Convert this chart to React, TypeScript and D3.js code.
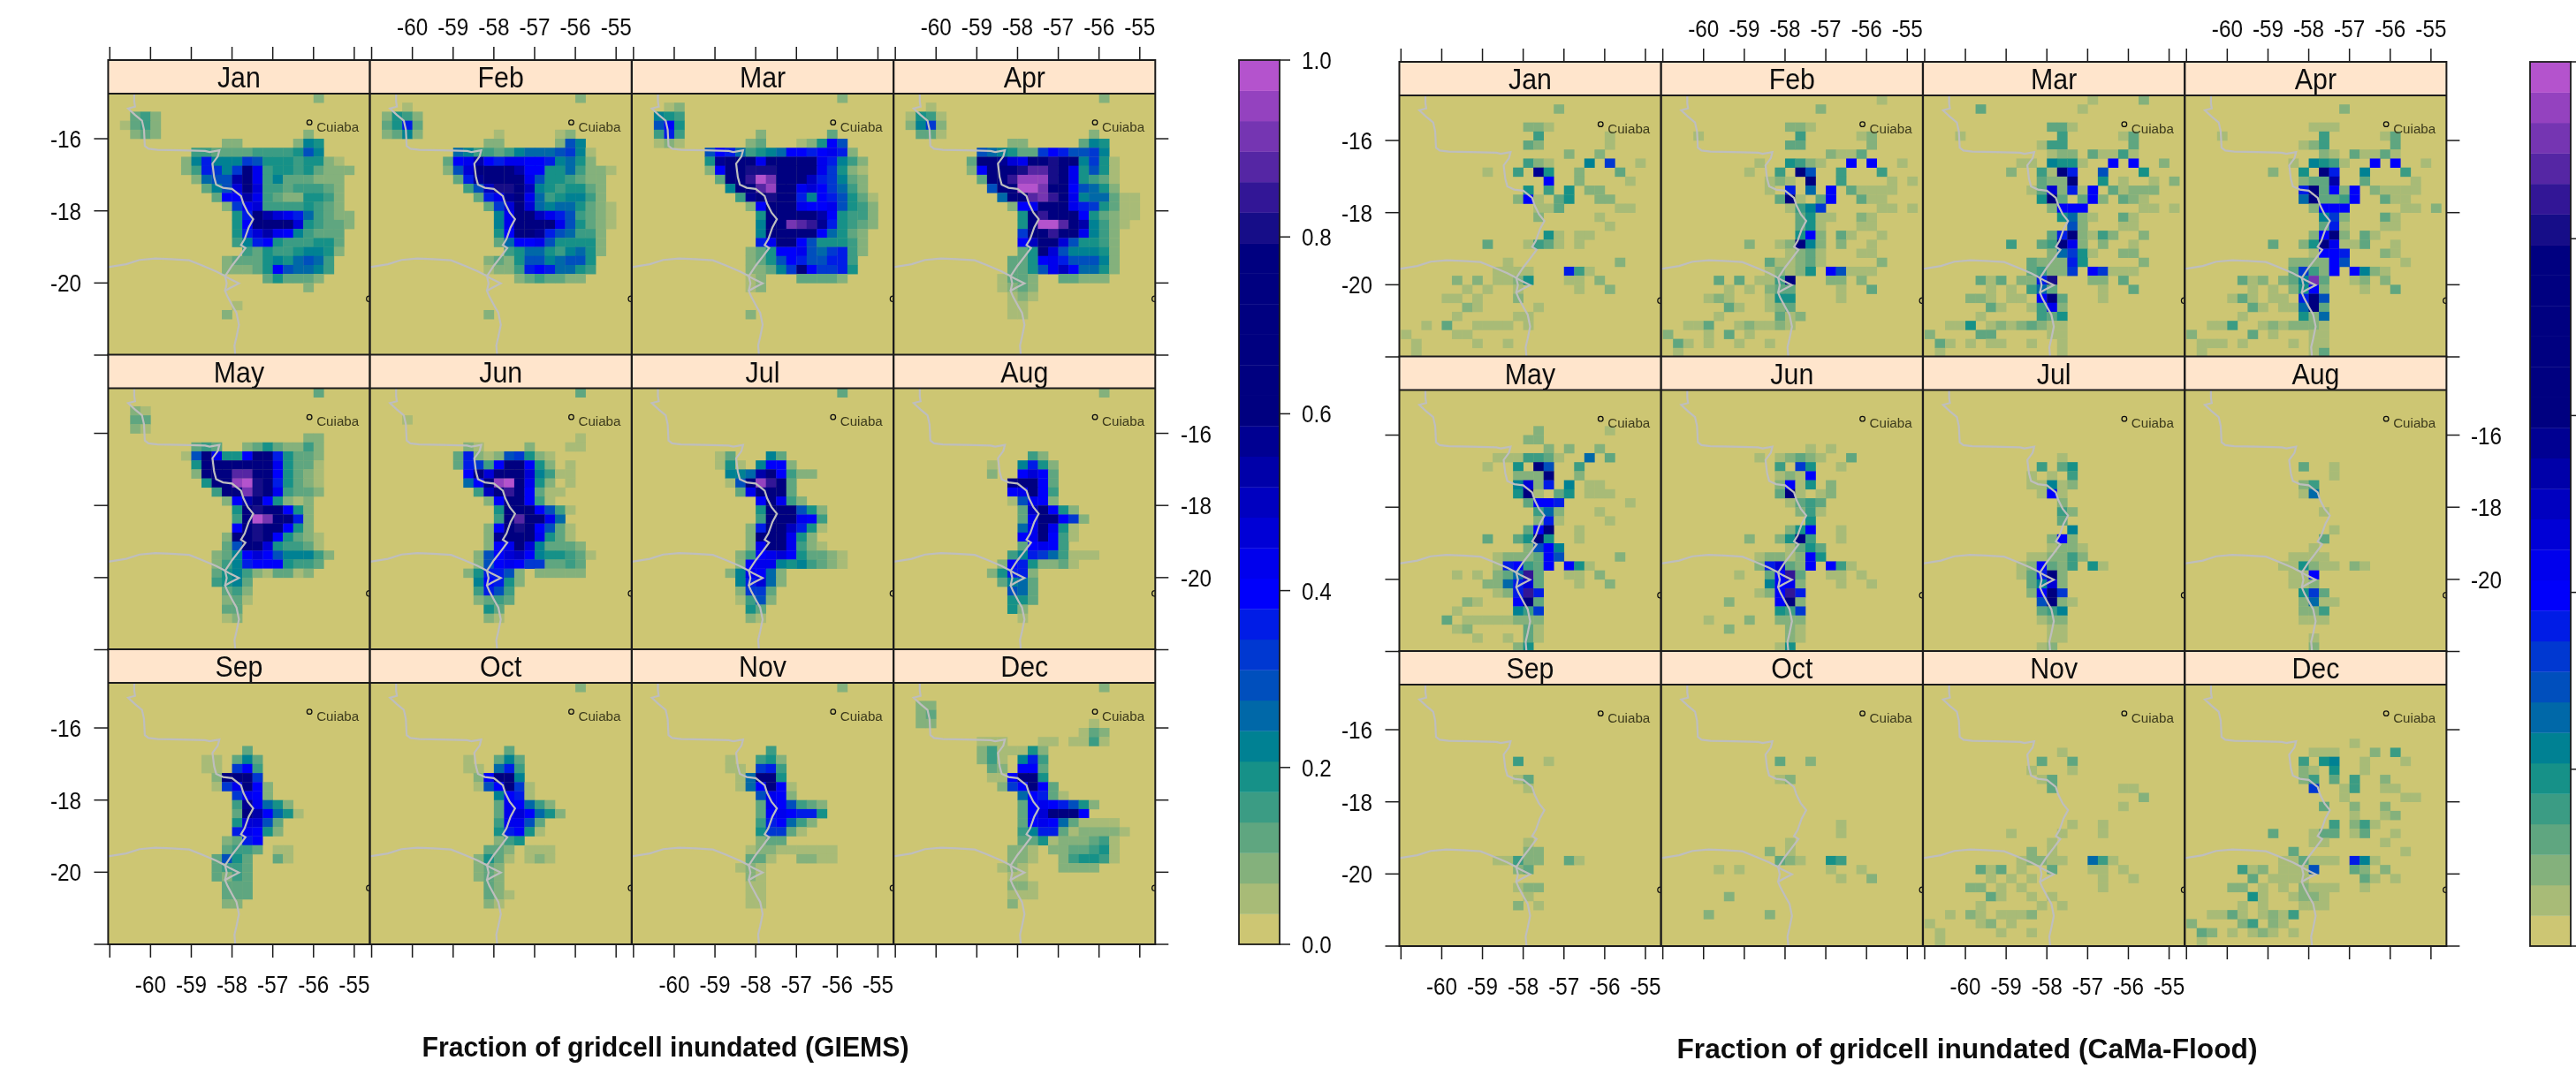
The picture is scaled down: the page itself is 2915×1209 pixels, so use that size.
import React from "react";
import * as d3 from "d3";

type Rows = [number, string][];

const months = ["Jan", "Feb", "Mar", "Apr", "May", "Jun", "Jul", "Aug", "Sep", "Oct", "Nov", "Dec"];
const lonTicks = [-61, -60, -59, -58, -57, -56, -55];
const lonLabels = [-60, -59, -58, -57, -56, -55];
const latTicks = [-16, -18, -20];
const keyTicks = ["0.0", "0.2", "0.4", "0.6", "0.8", "1.0"];
const paletteStops = ["#CDC673", "#008B8B", "#0000FF", "#000080", "#000080", "#B452CD"];

// band index per grid cell: [row from the north, "firstColumn:bands ..."], bands in base 36
const giemsJan: Rows = [[0,"20:2"],[2,"2:342"],[3,"1:1342"],[4,"2:232 19:2"],[5,"11:22 18:265"],[6,"8:4433334444586"],[7,"7:26a6669855545521"],[8,"7:24a969hc455453222"],[9,"8:2788fhc46333222"],[10,"9:368dhd44344432"],[11,"10:3bbfc43225542"],[12,"11:29cd44445432"],[13,"12:5ahfdca74322"],[14,"12:5bhhhhd54332"],[15,"12:5adfcb64333"],[16,"12:46ab5444553"],[17,"13:4354456652"],[18,"11:23335657874"],[19,"11:22235b87764"],[20,"15:353332"],[21,"19:2"],[23,"12:1"],[24,"11:2"]];
const giemsFeb: Rows = [[0,"20:2"],[1,"3:1"],[2,"1:2542"],[3,"1:35a3"],[4,"1:2362 12:1 18:12"],[5,"11:22 18:286"],[6,"8:76443467778961"],[7,"7:3bcfbaccbba6752"],[8,"7:28dhhhhfbb5574221"],[9,"8:3aghhjhc8554322"],[10,"9:48ennhe6545532"],[11,"10:3acghc7456642"],[12,"11:39dhd76775321"],[13,"12:6chheca84321"],[14,"12:6chmkhc85321"],[15,"12:5bhhga87442"],[16,"12:37bbc855552"],[17,"13:4577546752"],[18,"11:23258867885"],[19,"11:1224aba7754"],[20,"14:2343322"],[24,"11:2"]];
const giemsMar: Rows = [[0,"20:2"],[1,"3:12"],[2,"2:654"],[3,"2:8b5"],[4,"2:4a4 12:2 19:3"],[5,"2:121 11:23 16:125b8"],[6,"7:8ba74567bbabca2"],[7,"7:5ghhhchhhhhca642"],[8,"7:2bhinnnjhhhc9521"],[9,"8:3hhosqmhhea9632"],[10,"9:6hkprmhcdb9742"],[11,"10:4gjnjha6ba8531"],[12,"11:2bhhhcbbc8542"],[13,"12:5hhhhhfb5442"],[14,"12:6hmqpoga5432"],[15,"12:6hhhhhb7532"],[16,"12:achhb855542"],[17,"11:235bbc879a42"],[18,"11:2358ba88aa4"],[19,"11:22369hb99a5"],[20,"11:12 16:33332"],[21,"11:12"],[24,"11:2"]];
const giemsApr: Rows = [[0,"20:2"],[1,"3:1"],[2,"1:1541"],[3,"1:2692"],[4,"2:331 19:2"],[5,"11:22 18:365"],[6,"8:8765339ba8896"],[7,"7:3hhgdchmnhh6951"],[8,"7:2bhmmnppnhc5851"],[9,"8:3hhorrrnhc5431"],[10,"9:8hkssqmhb8752"],[11,"10:7hjpqohc677311"],[12,"11:2bchhhca95311"],[13,"12:5hokhhb53211"],[14,"12:5hssphf6421"],[15,"12:9hmohhc642"],[16,"12:behhd85542"],[17,"12:35hd866652"],[18,"11:335bca88862"],[19,"11:3358ceb7752"],[20,"10:1332 16:33222"],[21,"10:1232"],[22,"11:121"],[23,"11:11"],[24,"11:11"]];
const giemsMay: Rows = [[0,"20:3"],[2,"2:21"],[3,"2:33"],[4,"2:21"],[5,"19:22"],[6,"8:343 13:23532242"],[7,"7:18hc55bhha5332"],[8,"8:5hhhhjkhc5331"],[9,"8:2hhkppmhb5321"],[10,"9:5hjrsnha5321"],[11,"10:4hmqnhc4332"],[12,"11:2bfhb5212"],[13,"12:5hnhhb52"],[14,"12:4hsqhha2"],[15,"12:bhnhhb52"],[16,"11:2hjnhb5321"],[17,"11:38hhd54431"],[18,"10:236bdb866642"],[19,"10:246abbb5443"],[20,"10:3564213312"],[21,"10:4563"],[22,"11:342"],[23,"11:231"],[24,"11:33"],[25,"11:12"]];
const giemsJun: Rows = [[0,"20:3"],[3,"3:1"],[5,"20:1"],[6,"9:21 15:2 19:11"],[7,"8:3a21289521"],[8,"8:3a94bhhb52 19:1"],[9,"9:bhdhkhd6411"],[10,"9:7bjrsjc52 19:1"],[11,"10:4ejohb311"],[12,"11:2bhhb41"],[13,"12:5hlhb841"],[14,"12:4hphhc7"],[15,"11:2bhnjb831"],[16,"11:2gklhc531"],[17,"11:2bchd63332"],[18,"10:28bdeb655431"],[19,"10:28bcb993343"],[20,"9:25aa82.22222"],[21,"10:6ba52"],[22,"10:4a84"],[23,"10:2343"],[24,"11:53"],[25,"11:21"]];
const giemsJul: Rows = [[0,"20:3"],[7,"8:13 13:63"],[8,"8:151.6bb2"],[9,"9:667fhb422"],[10,"9:18hroh3"],[11,"10:3chlh3"],[12,"12:bhc42"],[13,"12:5hhh852"],[14,"12:4hhhcb4"],[15,"11:2ahhea51"],[16,"11:2hihc52"],[17,"11:2chhc421"],[18,"10:24bcdb53321"],[19,"10:2bcc6564321"],[20,"9:26cb72"],[21,"10:6ad72"],[22,"10:2993"],[23,"10:1482"],[24,"11:53"],[25,"11:21"]];
const giemsAug: Rows = [[0,"20:2"],[7,"13:42"],[8,"9:1 12:6a52"],[9,"9:2 12:bdb3"],[10,"11:hjhb3"],[11,"11:bchb4"],[12,"11:18cb2"],[13,"12:3ehb52"],[14,"12:3chhb92"],[15,"12:7chc51"],[16,"12:bchb41"],[17,"12:3bcb4"],[18,"11:46a974111"],[19,"10:2ba52231"],[20,"9:25aa2"],[21,"10:3673"],[22,"11:873"],[23,"11:553"],[24,"11:52"],[25,"12:1"]];
const giemsSep: Rows = [[7,"13:3"],[8,"9:11 12:363"],[9,"9:11 12:9b4"],[10,"10:2hhh9"],[11,"10:19chb2"],[12,"12:9cb2"],[13,"12:4gc752"],[14,"12:3hfb751"],[15,"12:5dd83"],[16,"12:acb52"],[17,"11:23ab"],[18,"11:3443.11"],[19,"10:3853..31"],[20,"10:3443"],[21,"10:3243"],[22,"11:333"],[23,"11:333"],[24,"11:22"]];
const giemsOct: Rows = [[0,"20:2"],[7,"13:3"],[8,"9:1 12:363"],[9,"9:11 12:7a4"],[10,"10:2bhh6"],[11,"10:18bh91"],[12,"12:6ba1"],[13,"12:3cb742"],[14,"12:3cdb752"],[15,"12:4cc83"],[16,"12:5ab51"],[17,"12:245"],[18,"11:332.111"],[19,"10:2531.121"],[20,"10:232"],[21,"10:232"],[22,"11:32"],[23,"11:321"],[24,"11:21"]];
const giemsNov: Rows = [[0,"20:2"],[7,"13:4"],[8,"9:1 12:452"],[9,"9:11 12:9a4"],[10,"10:17hh5"],[11,"10:17bhb1"],[12,"12:8cb2"],[13,"12:3cb8432"],[14,"12:3bcbaa5"],[15,"12:4ab742"],[16,"12:59931"],[17,"12:233"],[18,"11:122111111"],[19,"11:331..2211"],[20,"10:121"],[21,"11:21"],[22,"11:11"],[23,"11:11"],[24,"11:11"]];
const giemsDec: Rows = [[0,"20:2"],[2,"2:22"],[3,"2:23"],[4,"2:22 19:1"],[5,"18:132"],[6,"8:111 14:11 17:1141"],[7,"8:2411152"],[8,"8:241.6a4"],[9,"9:32.bb3"],[10,"9:11bhh5"],[11,"10:29bhb3"],[12,"12:7ba31"],[13,"12:3bcba852"],[14,"12:3bdhhhb"],[15,"12:3bcb731111"],[16,"12:46aa3122221"],[17,"12:3351222341"],[18,"11:221.2233451"],[19,"11:221..245541"],[20,"10:121...2222"],[21,"11:11"],[22,"11:221"],[23,"11:111"],[24,"11:2"]];

const camaJan: Rows = [[1,"15:2"],[3,"12:221"],[4,"13:4 20:1"],[5,"12:32 20:1"],[6,"16:2 19:2"],[7,"12:421 18:6 20:9 23:1"],[8,"8:1 11:4 13:g5 17:2 21:3"],[9,"14:b 17:2 22:1"],[10,"12:5.4.5 18:22"],[11,"11:2b1.35 19:22"],[12,"13:113 21:11"],[13,"13:2 19:1"],[14,"20:1"],[15,"14:51 17:11"],[16,"8:3 12:1431 17:1"],[18,"10:1 21:2"],[19,"9:1111 16:a41"],[20,"5:2.2.1125 16:11.2"],[21,"6:1.1..1 17:1 20:2"],[22,"4:11.1...2"],[23,"6:21.....1"],[24,"5:1.....11"],[25,"2:1.3..1111.1"],[26,"0:1....11"],[27,"1:1.....1..1"],[28,"1:1"]];
const camaFeb: Rows = [[0,"21:1"],[1,"15:2"],[3,"12:221"],[4,"3:1 13:4 19:12"],[5,"12:33 20:2"],[6,"16:2113"],[7,"9:1..5421..b.b..1"],[8,"8:1..4.h8..4...4"],[9,"10:121.h..4....1.1"],[10,"10:1.a.7.b.31111"],[11,"11:3h1.3b..311"],[12,"12:1469 21:11.1"],[13,"13:3511..21"],[14,"13:351 19:11"],[15,"13:5b2.31..1"],[16,"8:2..12h62.2..1"],[17,"12:1231 19:11"],[18,"10:311231 21:2"],[19,"10:12125.b8111"],[20,"5:3.3.114h 16:22.2"],[21,"6:1.1.233 17:1 20:3"],[22,"4:121...155 17:1"],[23,"6:31..123"],[24,"5:1.....312"],[25,"2:113..121121"],[26,"0:2...1.3.1"],[27,"1:31.1..1..1"],[28,"1:1"]];
const camaMar: Rows = [[0,"16:1....2"],[1,"5:3 15:1"],[3,"12:331"],[4,"3:1 13:4 19:13"],[5,"11:144 20:3"],[6,"12:122.31141"],[7,"9:11.6551..b.b..2"],[8,"8:2..41ha..8...5"],[9,"11:322h..5.1..1.2"],[10,"10:13d2a1b.31222"],[11,"11:5h3.3b2.321"],[12,"12:2bbb 21:11.1"],[13,"13:5721..31"],[14,"14:82 19:11"],[15,"12:3ah2142..2"],[16,"8:4..34hc2.2..1"],[17,"12:27951..22"],[18,"10:3222a5 21:2"],[19,"10:34229.b9111"],[20,"5:313.22an 16:22.3"],[21,"6:1.1.473 17:1 20:3"],[22,"4:221.11.bh3 17:1"],[23,"6:31..14c2"],[24,"5:1.....435"],[25,"2:115.12123211"],[26,"0:2....33 12:11"],[27,"1:31.1.11..1..1"],[28,"1:1 13:1"]];
const camaApr: Rows = [[1,"15:2"],[3,"12:111"],[4,"3:1 13:4 19:13"],[5,"11:124 20:3"],[6,"13:21.31131"],[7,"10:1.6541..b.b..1"],[8,"8:2..5.ha..6...4"],[9,"11:233f..3....1"],[10,"11:ah3b2b.21111"],[11,"11:7h334b..311"],[12,"12:2bbb 21:11.2"],[13,"13:692...31"],[14,"13:3a1 19:11"],[15,"12:2bh2.31"],[16,"8:3..25hc113..1"],[17,"12:1bba...21"],[18,"10:2222b8 21:1"],[19,"10:3942b.b621"],[20,"5:312.236q3 16:12.2"],[21,"6:1.1.25b2 17:1 20:3"],[22,"4:131.11.am8"],[23,"6:31.117h3"],[24,"5:1.....527"],[25,"2:114..1212221"],[26,"0:2.....3.1 12:11"],[27,"1:111.1....1.11"],[28,"1:1 12:13"]];
const camaMay: Rows = [[4,"13:2 20:1"],[5,"12:22"],[6,"14:2.2..2"],[7,"9:1114431..7.3"],[8,"8:1..5.h8..4"],[9,"11:222h..2"],[10,"11:6d2a.6.11"],[11,"11:5h1.35.111"],[12,"12:3bba 22:1"],[13,"13:472...1"],[14,"13:2a1 20:1"],[15,"12:3bh..1"],[16,"8:3..35h5..1"],[17,"12:28b6"],[18,"9:12223b8 21:2"],[19,"9:1ab43b.b51"],[20,"5:1.1.237o3 16:11.2"],[21,"8:227ad3 17:1 20:2"],[22,"9:12aoa"],[23,"6:21...bh3"],[24,"5:1.....649"],[25,"4:3.11111222"],[26,"5:12 12:31"],[27,"7:1..1.31"],[28,"11:25"]];
const camaJun: Rows = [[6,"14:1.1"],[7,"9:1.12321..3"],[8,"11:4.95..1"],[9,"11:121b"],[10,"11:2b15.2"],[11,"11:3h1.12"],[12,"12:1343"],[13,"13:241"],[14,"14:5"],[15,"12:25b..1"],[16,"8:2..25h4..1"],[17,"12:1353"],[18,"9:12212b5"],[19,"9:2ad32b.b41"],[20,"7:1..3bo3 16:11.1"],[21,"10:6bc2 17:1 20:1"],[22,"9:12boa"],[23,"6:2....bh2"],[24,"11:549"],[25,"4:1...2..222"],[26,"6:2 12:21"],[27,"12:21"],[28,"11:15"]];
const camaJul: Rows = [[7,"13:1"],[8,"11:4.35"],[9,"10:1.1.4"],[10,"10:11612"],[11,"11:1b1"],[12,"13:2"],[13,"13:42"],[14,"13:3"],[15,"14:6"],[16,"12:2b2"],[17,"12:1221"],[18,"10:112242"],[19,"9:12b324.51"],[20,"9:13ah2"],[21,"10:36d2"],[22,"10:2bh9"],[23,"11:8h21"],[24,"11:346"],[25,"11:122"],[26,"12:11"],[27,"12:11"],[28,"11:12"]];
const camaAug: Rows = [[8,"11:3..1"],[9,"14:1"],[10,"11:24"],[11,"11:17"],[13,"13:1"],[15,"14:1"],[16,"13:3"],[17,"12:1"],[18,"10:1111"],[19,"9:115211.21"],[20,"10:11b"],[21,"10:112"],[22,"11:593"],[23,"11:2711"],[24,"11:224"],[25,"11:111"],[27,"12:1"],[28,"12:2"]];
const camaSep: Rows = [[8,"11:4..1"],[10,"11:13"],[11,"12:1"],[17,"12:1"],[18,"12:22"],[19,"9:11422..31"],[20,"11:23"],[22,"11:122"],[23,"12:1"],[24,"11:2.1"]];
const camaOct: Rows = [[8,"11:3..2"],[10,"11:12"],[15,"17:1"],[16,"17:1"],[17,"12:1"],[18,"10:2.1"],[19,"11:321..54"],[20,"5:1.1 16:1..1"],[21,"17:1..2"],[23,"6:2"],[25,"4:2.....2"]];
const camaNov: Rows = [[7,"13:1"],[8,"11:3..3"],[9,"10:1...1"],[10,"11:13"],[11,"12:3 19:11"],[12,"21:2"],[13,"19:1"],[15,"14:1..1"],[16,"8:1....1...1"],[17,"12:1"],[18,"10:2.1"],[19,"9:12211..741"],[20,"5:313.1..3 16:11.1"],[21,"6:1.1.1 17:1..1"],[22,"4:22.1.1 17:1"],[23,"6:31..1.1"],[24,"5:1.....1.1"],[25,"2:1.21.1112"],[26,"0:1....12.1"],[27,"1:1.....1..1"],[28,"1:1"]];
const camaDec: Rows = [[6,"16:1"],[7,"12:111...2.4"],[8,"11:4.56..1...1"],[9,"11:21.5..1"],[10,"11:24.3.4..2"],[11,"12:9..14..11"],[12,"15:1 21:11"],[13,"13:3..2..2"],[14,"16:1..12"],[15,"14:4.241"],[16,"8:3...133.13..1"],[17,"12:11 19:1"],[18,"10:3 21:1"],[19,"9:113111.a61"],[20,"5:412.1118 16:32.2"],[21,"6:3.1111 17:31.1"],[22,"4:22.1.1.2111 17:1"],[23,"6:51..1221"],[24,"5:1.1...111"],[25,"2:1131.1214"],[26,"0:2....24.21"],[27,"1:32.1.121.1"],[28,"1:1"]];

const giemsPanels = [giemsJan, giemsFeb, giemsMar, giemsApr, giemsMay, giemsJun, giemsJul, giemsAug, giemsSep, giemsOct, giemsNov, giemsDec];
const camaPanels = [camaJan, camaFeb, camaMar, camaApr, camaMay, camaJun, camaJul, camaAug, camaSep, camaOct, camaNov, camaDec];

// river and border, lon/lat
const riverLon = [-60.40, -60.40, -60.38, -60.55, -60.38, -60.21, -60.16, -60.14, -60.05, -59.83, -59.27, -58.66, -58.55, -58.31, -58.35, -58.48, -58.44, -58.39, -58.22, -58.00, -57.78, -57.72, -57.61, -57.48, -57.59, -57.69, -57.78, -57.67, -57.83, -58.00, -58.17, -58.05, -57.83, -58.05, -58.17, -58.11, -57.97, -57.89, -57.83, -57.89, -57.94, -57.92];
const riverLat = [-14.75, -14.97, -15.11, -15.16, -15.34, -15.50, -15.75, -16.20, -16.28, -16.31, -16.32, -16.34, -16.37, -16.32, -16.49, -16.69, -17.06, -17.27, -17.36, -17.39, -17.59, -17.80, -18.05, -18.23, -18.46, -18.78, -18.95, -19.03, -19.27, -19.52, -19.81, -19.89, -20.01, -20.14, -20.22, -20.38, -20.67, -20.83, -21.16, -21.49, -21.73, -22.00];
const borderLon = [-61.04, -60.60, -60.27, -59.88, -59.49, -59.05, -58.72, -58.39, -58.17];
const borderLat = [-19.56, -19.48, -19.36, -19.32, -19.34, -19.37, -19.52, -19.68, -19.81];
const channelLon = [-58.17, -58.13, -58.17];
const channelLat = [-19.81, -20.01, -20.22];
const cuiaba = [-56.1, -15.55];
const campoGrande = [-54.63, -20.44];

const ramp = d3.scaleLinear<string>().domain([0, 0.2, 0.4, 0.6, 0.8, 1]).range(paletteStops);
const palette = d3.range(29).map((i) => ramp(i / 28));
const colorScale = d3.scaleQuantize<string>().domain([0, 1]).range(palette);

const panelW = 296;
const panelH = 296;
const stripH = 38;
const INK = "#1c1c1c";
const FONT = "'Liberation Sans', Arial, sans-serif";

const cellsOf = (rows: Rows) =>
  rows.flatMap(([row, runs]) =>
    runs.split(" ").flatMap((run) => {
      const [col, bands] = run.split(":");
      return [...bands].flatMap((ch, i) =>
        ch === "." ? [] : [{ lon: -61 + (+col + i) * 0.25, lat: -14.75 - row * 0.25, value: (parseInt(ch, 36) + 0.5) / 29 }]
      );
    })
  );

const Squeezed = ({ x, y, size, anchor = "middle", sx = 0.9, children }: any) => (
  <text transform={`translate(${x},${y}) scale(${sx},1)`} fontSize={size} textAnchor={anchor} fontFamily={FONT} fill="#111">
    {children}
  </text>
);

const Panel = ({ id, left, top, index, rows }: any) => {
  const x = d3.scaleLinear().domain([-61.04, -54.62]).range([left, left + panelW]);
  const y = d3.scaleLinear().domain([-14.75, -22]).range([top, top + panelH]);
  const path = (lons: number[], lats: number[]) =>
    d3.line<number>().x((d) => x(d)).y((_, i) => y(lats[i]))(lons) as string;
  return (
    <g>
      <clipPath id={id}>
        <rect x={left} y={top} width={panelW} height={panelH} />
      </clipPath>
      <rect x={left} y={top - stripH} width={panelW} height={stripH} fill="#ffe5cc" />
      <Squeezed x={left + panelW / 2} y={top - 7} size={33} sx={0.92}>{months[index]}</Squeezed>
      <g clipPath={`url(#${id})`}>
        <rect x={left} y={top} width={panelW} height={panelH} fill={palette[0]} />
        {cellsOf(rows).map((c, i) => (
          <rect
            key={i}
            x={x(c.lon)}
            y={y(c.lat)}
            width={x(c.lon + 0.25) - x(c.lon) + 0.3}
            height={y(c.lat - 0.25) - y(c.lat) + 0.3}
            fill={colorScale(c.value)}
          />
        ))}
        {[path(riverLon, riverLat), path(borderLon, borderLat), path(channelLon, channelLat)].map((d, i) => (
          <path key={i} d={d} fill="none" stroke="#bebebe" strokeWidth={2.2} />
        ))}
        <circle cx={x(cuiaba[0])} cy={y(cuiaba[1])} r={2.8} fill="none" stroke="#111" strokeWidth={1.3} />
        <circle cx={x(campoGrande[0])} cy={y(campoGrande[1])} r={3.2} fill="none" stroke="#111" strokeWidth={1.3} />
        <text x={x(cuiaba[0]) + 8} y={y(cuiaba[1]) + 10} fontSize={14} fontFamily={FONT} fill="#3c3a1c" textLength={48} lengthAdjust="spacingAndGlyphs">
          Cuiaba
        </text>
      </g>
      <rect x={left} y={top - stripH} width={panelW} height={stripH + panelH} fill="none" stroke={INK} strokeWidth={2} />
      <line x1={left} x2={left + panelW} y1={top} y2={top} stroke={INK} strokeWidth={2} />
    </g>
  );
};

const Block = ({ name, rowsByMonth, x0, y0, title, titleLen, titleX, keyX, keyLabels, leftLabelX, rightLabelX }: any) => {
  const lefts = d3.range(4).map((i) => x0 + i * (panelW + 0.3));
  const tops = d3.range(3).map((i) => y0 + i * 333.5);
  const keyY = d3.scaleLinear().domain([0, 1]).range([tops[2] + panelH, tops[0] - stripH]);
  const keyBands = d3.range(29);
  const xOf = (left: number) => d3.scaleLinear().domain([-61.04, -54.62]).range([left, left + panelW]);
  const yOf = (top: number) => d3.scaleLinear().domain([-14.75, -22]).range([top, top + panelH]);
  const bottom = tops[2] + panelH;
  const upper = tops[0] - stripH;
  return (
    <g>
      {months.map((_, i) => (
        <Panel key={i} id={`${name}${i}`} index={i} rows={rowsByMonth[i]} left={lefts[i % 4]} top={tops[Math.floor(i / 4)]} />
      ))}
      {lefts.map((left, c) => {
        const x = xOf(left);
        return (
          <g key={c}>
            {lonTicks.map((t) => (
              <g key={t}>
                <line x1={x(t)} x2={x(t)} y1={upper} y2={upper - 15} stroke={INK} strokeWidth={1.5} />
                <line x1={x(t)} x2={x(t)} y1={bottom} y2={bottom + 15} stroke={INK} strokeWidth={1.5} />
              </g>
            ))}
            {lonLabels.map((t) =>
              c % 2 === 1 ? (
                <Squeezed key={t} x={x(t)} y={upper - 28} size={27}>{t}</Squeezed>
              ) : (
                <Squeezed key={t} x={x(t)} y={bottom + 55} size={27}>{t}</Squeezed>
              )
            )}
          </g>
        );
      })}
      {tops.map((top, r) => {
        const y = yOf(top);
        const right = lefts[3] + panelW;
        return (
          <g key={r}>
            {latTicks.map((t) => (
              <g key={t}>
                <line x1={x0} x2={x0 - 16} y1={y(t)} y2={y(t)} stroke={INK} strokeWidth={1.5} />
                <line x1={right} x2={right + 15} y1={y(t)} y2={y(t)} stroke={INK} strokeWidth={1.5} />
                {r !== 1 && <Squeezed x={leftLabelX} y={y(t) + 10} size={27} anchor="end">{t}</Squeezed>}
                {r === 1 && <Squeezed x={rightLabelX} y={y(t) + 10} size={27} anchor="start">{t}</Squeezed>}
              </g>
            ))}
            <line x1={x0} x2={x0 - 16} y1={top + panelH} y2={top + panelH} stroke={INK} strokeWidth={1.5} />
            <line x1={right} x2={right + 15} y1={top + panelH} y2={top + panelH} stroke={INK} strokeWidth={1.5} />
          </g>
        );
      })}
      {keyBands.map((b) => (
        <rect
          key={b}
          x={keyX}
          y={keyY((b + 1) / 29)}
          width={46}
          height={keyY(b / 29) - keyY((b + 1) / 29) + 0.3}
          fill={palette[b]}
        />
      ))}
      <rect x={keyX} y={keyY(1)} width={46} height={keyY(0) - keyY(1)} fill="none" stroke={INK} strokeWidth={1.8} />
      {keyTicks.map((t) => (
        <g key={t}>
          <line x1={keyX + 46} x2={keyX + 58} y1={keyY(+t)} y2={keyY(+t)} stroke={INK} strokeWidth={1.5} />
          {keyLabels && <Squeezed x={keyX + 71} y={keyY(+t) + 10} size={27} anchor="start">{t}</Squeezed>}
        </g>
      ))}
      <text
        x={titleX}
        y={bottom + 127}
        textAnchor="middle"
        fontSize={32}
        fontWeight={700}
        fontFamily={FONT}
        fill="#111"
        textLength={titleLen}
        lengthAdjust="spacingAndGlyphs"
      >
        {title}
      </text>
    </g>
  );
};

export default function App() {
  return (
    <svg width={2915} height={1209} style={{ position: "absolute", left: 0, top: 0, background: "#fff" }}>
      <filter id="soft" x="0" y="0" width="100%" height="100%">
        <feGaussianBlur stdDeviation="0.75" />
      </filter>
      <g filter="url(#soft)">
        <Block
          name="giems"
          rowsByMonth={giemsPanels}
          x0={122.4}
          y0={106}
          title="Fraction of gridcell inundated (GIEMS)"
          titleLen={551}
          titleX={753}
          keyX={1402}
          keyLabels
          leftLabelX={92}
          rightLabelX={1336}
        />
        <Block
          name="cama"
          rowsByMonth={camaPanels}
          x0={1583.5}
          y0={108}
          title="Fraction of gridcell inundated (CaMa-Flood)"
          titleLen={657}
          titleX={2226}
          keyX={2863}
          keyLabels={false}
          leftLabelX={1553}
          rightLabelX={2796}
        />
      </g>
    </svg>
  );
}
